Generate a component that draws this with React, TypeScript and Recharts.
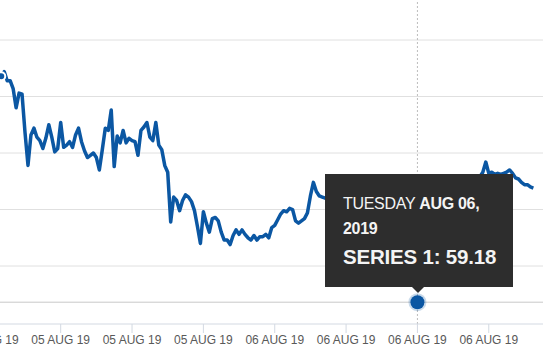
import {
  Line,
  LineChart,
  ReferenceDot,
  ReferenceLine,
  XAxis,
  YAxis,
} from "recharts";

// hours since 05 Aug 2019 00:00, one sample every 7.5 minutes
const START_HOUR = 12.25;
const STEP_HOURS = 0.125;

const SERIES_1 = [
  61.13, 61.14, 61.18, 61.22, 61.14, 61.14, 61.07, 60.9, 61.03, 61.02,
  60.68, 60.39, 60.66, 60.72, 60.64, 60.61, 60.54, 60.63, 60.75, 60.64,
  60.51, 60.54, 60.77, 60.55, 60.57, 60.6, 60.55, 60.66, 60.72, 60.6,
  60.52, 60.46, 60.48, 60.5, 60.46, 60.35, 60.53, 60.72, 60.7, 60.88,
  60.38, 60.65, 60.59, 60.7, 60.59, 60.63, 60.61, 60.6, 60.48, 60.7,
  60.73, 60.77, 60.64, 60.61, 60.77, 60.57, 60.53, 60.39, 60.33, 59.89,
  60.11, 60.08, 59.99, 60.08, 60.13, 60.11, 60.07, 59.99, 59.85, 59.7,
  59.98, 59.88, 59.8, 59.92, 59.93, 59.9, 59.8, 59.73, 59.73, 59.69,
  59.77, 59.82, 59.78, 59.82, 59.78, 59.75, 59.73, 59.77, 59.73, 59.76,
  59.76, 59.78, 59.75, 59.84, 59.86, 59.91, 59.96, 59.99, 59.98, 60.01,
  60.0, 59.9, 59.88, 59.9, 59.92, 59.97, 60.12, 60.24, 60.16, 60.12,
  60.11, 60.1,
  60.08, 60.05, 60.09, 60.12, 60.07, 60.03, 60.0, 60.04, 60.08, 60.06,
  60.02, 59.98, 60.01, 60.05, 60.1, 60.14, 60.11, 60.07, 60.04, 60.06,
  60.09, 60.05, 60.01, 59.97, 59.99, 60.03, 60.06, 60.02, 59.98, 59.95,
  59.97, 60.0, 60.04, 60.07, 60.05, 60.09, 60.12, 60.1, 60.14, 60.17,
  60.13, 60.1, 60.12, 60.15, 60.18, 60.16, 60.2, 60.22, 60.19, 60.23,
  60.26, 60.29,
  60.33, 60.42, 60.32, 60.33, 60.31, 60.32, 60.31, 60.32, 60.33, 60.35,
  60.32, 60.28, 60.27, 60.24, 60.22, 60.22, 60.2, 60.19,
];

const TICK_HOURS = [12, 15, 18, 21, 24, 27, 30, 33];
const TICK_LABELS = [
  "05 AUG 19", "05 AUG 19", "05 AUG 19", "05 AUG 19",
  "06 AUG 19", "06 AUG 19", "06 AUG 19", "06 AUG 19",
];
const GRID_VALUES = [59.5, 60, 60.5, 61, 61.5];
const BASE_VALUE = 59.18;

const HOVER_HOUR = 30;
const HOVER_VALUE = 59.18;
const HOVER_DAY = "TUESDAY";
const HOVER_DATE = "AUG 06,";
const HOVER_YEAR = "2019";
const SERIES_NAME = "SERIES 1";

const data = SERIES_1.map((v, i) => ({ t: START_HOUR + i * STEP_HOURS, v }));

const BLUE = "#0b57a3";
const FONT = "'Liberation Sans', Arial, sans-serif";

export default function App() {
  return (
    <div
      style={{
        position: "fixed",
        left: 0,
        top: 0,
        width: 549,
        height: 352,
        overflow: "hidden",
        background: "#fff",
        fontFamily: FONT,
      }}
    >
      <div style={{ position: "absolute", left: -82, top: 0 }}>
        <LineChart width={631} height={352} data={data} margin={{ top: 0, right: 6, bottom: 0, left: 0 }}>
          <XAxis
            dataKey="t"
            type="number"
            domain={[9, 35.28]}
            allowDataOverflow
            ticks={TICK_HOURS}
            interval={0}
            height={28}
            tickSize={9}
            tickMargin={2}
            stroke="#d3d9e2"
            tick={{ fill: "#595959", fontSize: 12, fontFamily: FONT }}
            tickFormatter={(t) => TICK_LABELS[TICK_HOURS.indexOf(t)] ?? ""}
          />
          <YAxis
            type="number"
            domain={[58.987, 61.854]}
            allowDataOverflow
            width={0}
            tick={false}
            axisLine={false}
            tickLine={false}
          />
          {GRID_VALUES.map((g) => (
            <ReferenceLine key={g} y={g} stroke="#e0e0e0" />
          ))}
          <ReferenceLine y={BASE_VALUE} stroke="#c9c9c9" />
          <ReferenceLine x={HOVER_HOUR} stroke="#bdbdbd" strokeDasharray="2 2" />
          <Line
            type="linear"
            dataKey="v"
            stroke={BLUE}
            strokeWidth={3.5}
            strokeLinejoin="round"
            dot={false}
            isAnimationActive={false}
          />
          <ReferenceDot
            x={HOVER_HOUR}
            y={HOVER_VALUE}
            r={7}
            fill={BLUE}
            stroke="rgba(11,87,163,0.22)"
            strokeWidth={4}
          />
        </LineChart>
      </div>

      {/* static hover tooltip */}
      <div
        style={{
          position: "absolute",
          left: 325,
          top: 174,
          width: 188,
          height: 113,
          background: "#2d2d2d",
          color: "#f4f4f4",
          boxSizing: "border-box",
          padding: "17px 0 0 18px",
        }}
      >
        <div style={{ fontSize: 16, lineHeight: "25px", letterSpacing: -0.3 }}>
          {HOVER_DAY} <b>{HOVER_DATE}</b>
          <br />
          <b>{HOVER_YEAR}</b>
        </div>
        <div style={{ fontSize: 20.5, lineHeight: "30px", marginTop: 1, letterSpacing: -0.2, fontWeight: 600 }}>
          {SERIES_NAME}: {HOVER_VALUE.toFixed(2)}
        </div>
      </div>
      <div
        style={{
          position: "absolute",
          left: 412,
          top: 287,
          width: 0,
          height: 0,
          borderLeft: "6px solid transparent",
          borderRight: "6px solid transparent",
          borderTop: "6px solid #2d2d2d",
        }}
      />
    </div>
  );
}
